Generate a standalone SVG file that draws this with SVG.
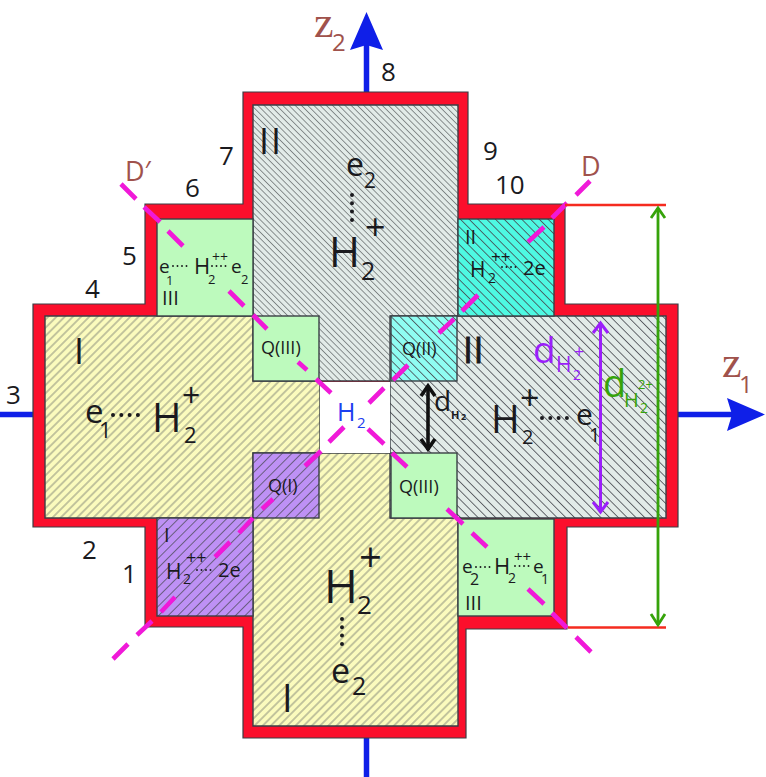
<svg xmlns="http://www.w3.org/2000/svg" width="766" height="777" viewBox="0 0 766 777">
<style>
text{font-family:"Open Sans","Noto Sans",sans-serif;fill:#1a1a1e}
.e{stroke:#3a3f45;stroke-width:1.4}
.d{stroke:#f019d8;stroke-width:4.6;fill:none}
.dots{stroke:#1a1a1e;stroke-width:4;stroke-dasharray:0 8.3;stroke-linecap:round;fill:none}
.sd{stroke:#1a1a1e;stroke-width:1.9;stroke-dasharray:0 4.5;stroke-linecap:round;fill:none}
.n{font-size:26px}
.b{fill:#a0524c}
.p{fill:#9b1ffa}
.g{fill:#36a30a}
.u{fill:#1d40f0}
.sb{fill:#a0524c}
</style>
<defs>
<pattern id="y53" width="5.8" height="5.8" patternUnits="userSpaceOnUse" patternTransform="rotate(-45)"><line x1="0" y1="2.9" x2="5.8" y2="2.9" stroke="#5a5f60" stroke-width="0.7"/></pattern>
<pattern id="p65" width="6.8" height="6.8" patternUnits="userSpaceOnUse" patternTransform="rotate(-45)"><line x1="0" y1="3.4" x2="6.8" y2="3.4" stroke="#45484f" stroke-width="0.7"/></pattern>
<pattern id="g4" width="4.4" height="4.4" patternUnits="userSpaceOnUse" patternTransform="rotate(45)"><line x1="0" y1="2.2" x2="4.4" y2="2.2" stroke="#5a5f60" stroke-width="0.65"/></pattern>
<pattern id="g6" width="6.2" height="6.2" patternUnits="userSpaceOnUse" patternTransform="rotate(45)"><line x1="0" y1="3.1" x2="6.2" y2="3.1" stroke="#45484f" stroke-width="0.8"/></pattern>
</defs>
<g id="axes">
<line x1="0" y1="414.500" x2="33" y2="414.500" stroke="#0f1fe8" stroke-width="5.500"/>
<line x1="678" y1="414.500" x2="735" y2="414.500" stroke="#0f1fe8" stroke-width="5.500"/>
<polygon points="727,398 765,414.500 727,431 732,414.500" fill="#0f1fe8"/>
<line x1="366.500" y1="92" x2="366.500" y2="45" stroke="#0f1fe8" stroke-width="5.500"/>
<polygon points="350,50 366.500,12 383,50 366.500,45" fill="#0f1fe8"/>
<line x1="366.500" y1="738" x2="366.500" y2="777" stroke="#0f1fe8" stroke-width="5.500"/>
</g>
<g id="outline"><path d="M243 92H468V204H565V304H678V527H567V629H466V738H243V627H145V527H33V304H145V204H243Z" fill="#fb0f2c" stroke="#3a3f45" stroke-width="1.2"/></g>
<g id="left-I"><path d="M45 316H320V518H45Z" fill="#fbfbbd"/><path d="M45 316H320V518H45Z" fill="url(#y53)" class="e"/>
<text x="74" y="364" font-size="36">I</text><text x="85" y="423" font-size="33">e</text><text x="99" y="438" font-size="22">1</text><path d="M113 415H138" class="dots" stroke-width="3.4"/><text x="152" y="432" font-size="40">H</text><text x="184" y="443" font-size="22">2</text><text x="182" y="407" font-size="32">+</text></g>
<g id="bottom-I"><path d="M253 453H458V726H253Z" fill="#fbfbbd"/><path d="M253 453H458V726H253Z" fill="url(#y53)" class="e"/>
<text x="324" y="603" font-size="46">H</text><text x="357" y="614" font-size="26">2</text><text x="359" y="572" font-size="40">+</text><path d="M342 619V646" class="dots"/><text x="331" y="683" font-size="34">e</text><text x="352" y="695" font-size="25">2</text><text x="282" y="712" font-size="38">I</text></g>
<g id="top-II"><path d="M253 105H458V381H253Z" fill="#e2ebe8"/><path d="M253 105H458V381H253Z" fill="url(#g4)" class="e"/>
<text x="259" y="154" font-size="36" letter-spacing="2">II</text><text x="346" y="176" font-size="32">e</text><text x="364" y="188" font-size="21">2</text><path d="M352 195V221" class="dots"/><text x="329" y="267" font-size="42">H</text><text x="361" y="280" font-size="25">2</text><text x="365" y="240" font-size="36">+</text></g>
<g id="right-II"><path d="M390 316H666V518H390Z" fill="#e2ebe8"/><path d="M390 316H666V518H390Z" fill="url(#g6)" class="e"/>
<text x="463" y="363" font-size="36" letter-spacing="0.5" stroke="#1a1a1e" stroke-width="0.8">II</text><text x="491" y="433" font-size="39">H</text><text x="522" y="444" font-size="20">2</text><text x="520" y="410" font-size="34">+</text><path d="M542 418H567" class="dots" stroke-width="3.4"/><text x="576" y="425" font-size="30">e</text><text x="589" y="442" font-size="20">1</text></g>
<g id="centre"><rect x="320" y="382" width="70" height="71" fill="#fff"/><text x="337" y="421" font-size="25" class="u">H</text><text x="357" y="428" font-size="15" class="u">2</text></g>
<g id="q3a"><rect x="253" y="316" width="66" height="65" fill="#bdfabd" class="e"/><text x="261" y="354" font-size="18">Q(III)</text></g>
<g id="q2"><rect x="391" y="316" width="66" height="65" fill="#8ffdf2"/><rect x="391" y="316" width="66" height="65" fill="url(#g6)" class="e"/><text x="402" y="355" font-size="18">Q(II)</text></g>
<g id="q1"><rect x="253" y="453" width="66" height="65" fill="#be91f5"/><rect x="253" y="453" width="66" height="65" fill="url(#p65)" class="e"/><text x="268" y="492" font-size="18">Q(I)</text></g>
<g id="q3b"><rect x="391" y="453" width="66" height="65" fill="#bdfabd" class="e"/><text x="399" y="493" font-size="18">Q(III)</text></g>
<g id="tl-III"><rect x="157" y="219" width="96" height="97" fill="#bdfabd" class="e"/>
<text x="159" y="273" font-size="19">e</text><text x="166" y="285" font-size="13">1</text><path d="M173 266H188" class="sd"/><text x="194" y="274" font-size="22">H</text><text x="208" y="284" font-size="13">2</text><text x="212" y="262" font-size="14">++</text><path d="M212 266H227" class="sd"/><text x="231" y="273" font-size="19">e</text><text x="241" y="284" font-size="13">2</text><text x="162" y="305" font-size="20">III</text></g>
<g id="tr-II"><rect x="458" y="219" width="96" height="97" fill="#4ef9e2"/><rect x="458" y="219" width="96" height="97" fill="url(#g6)" class="e"/>
<text x="465" y="244" font-size="20">II</text><text x="470" y="277" font-size="21">H</text><text x="488" y="283" font-size="14">2</text><text x="491" y="263" font-size="17">++</text><path d="M502 267H518" class="sd"/><text x="523" y="275" font-size="20">2e</text></g>
<g id="bl-I"><rect x="157" y="518" width="96" height="98" fill="#be91f5"/><rect x="157" y="518" width="96" height="98" fill="url(#p65)" class="e"/>
<text x="164" y="542" font-size="20">I</text><text x="166" y="579" font-size="21">H</text><text x="183" y="584" font-size="14">2</text><text x="186" y="564" font-size="18">++</text><path d="M197 570H213" class="sd"/><text x="218" y="577" font-size="20">2e</text></g>
<g id="br-III"><rect x="458" y="519" width="96" height="97" fill="#bdfabd" class="e"/>
<text x="462" y="573" font-size="19">e</text><text x="470" y="585" font-size="16">2</text><path d="M476 567H491" class="sd"/><text x="494" y="574" font-size="22">H</text><text x="508" y="583" font-size="14">2</text><text x="514" y="562" font-size="15">++</text><path d="M515 566H530" class="sd"/><text x="533" y="573" font-size="19">e</text><text x="541" y="584" font-size="14">1</text><text x="465" y="610" font-size="20">III</text></g>
<g id="connectors">
<path class="d" d="M121 184L136 199M144 207L160 222M168 231L183 246M229 291L244 306M253 315L267 329M298 362L307 370M316 379L331 393M368 429L384 444M392 453L407 467M447 509L463 524M472 533L487 547M528 589L544 604M552 613L567 628M576 637L591 652"/>
<path class="d" d="M590 181L576 195M567 203L552 218M544 227L528 242M478 295L462 311M454 319L439 333M408 365L393 380M384 388L369 403M344 427L329 442M321 451L305 466M273 499L262 509M253 518L239 533M230 542L215 557M175 597L161 612M152 621L137 635M128 644L113 659"/>
<line x1="565" y1="205" x2="666" y2="205" stroke="#f52b1f" stroke-width="2.400"/>
<line x1="568" y1="627.500" x2="666" y2="627.500" stroke="#f52b1f" stroke-width="2.400"/>
<g stroke="#36a30a" stroke-width="2.800" fill="none"><line x1="658" y1="208" x2="658" y2="625"/><path d="M651 218L658 208L665 218M651 614L658 625L665 614"/></g>
<g stroke="#9b1ffa" stroke-width="3" fill="none"><line x1="600.500" y1="323" x2="600.500" y2="512"/><path d="M593 333L600.500 323L608 333M593 502L600.500 512L608 502"/></g>
<g stroke="#111" stroke-width="3.600" fill="none"><line x1="428" y1="386" x2="428" y2="450"/><path d="M421 396L428 386L435 396M421 439L428 449L435 439"/></g>
</g>
<g id="labels">
<text x="314" y="37" font-size="44" class="b" style="font-family:'Liberation Serif',serif">z</text><text x="332" y="51" font-size="24" class="sb">2</text>
<text x="722" y="377" font-size="44" class="b" style="font-family:'Liberation Serif',serif">z</text><text x="739" y="393" font-size="24" class="sb">1</text>
<text x="125" y="181" font-size="27" class="b">D′</text><text x="581" y="176" font-size="27" class="b">D</text>
<text x="533" y="363" font-size="37" class="p">d</text><text x="556" y="372" font-size="21" class="p">H</text><text x="573" y="380" font-size="14" class="p">2</text><text x="574" y="358" font-size="18" class="p">+</text>
<text x="603" y="397" font-size="38" class="g">d</text><text x="624" y="407" font-size="20" class="g">H</text><text x="640" y="413" font-size="14" class="g">2</text><text x="638" y="389" font-size="13" class="g">2+</text>
<text x="434" y="411" font-size="28">d</text><text x="451" y="419" font-size="11" font-weight="bold">H</text><text x="461" y="420" font-size="9" font-weight="bold">2</text>
<text x="381" y="81" class="n">8</text><text x="219" y="165" class="n">7</text><text x="185" y="197" class="n">6</text><text x="122" y="265" class="n">5</text><text x="85" y="298" class="n">4</text><text x="6" y="404" class="n">3</text><text x="82" y="559" class="n">2</text><text x="122" y="583" class="n">1</text><text x="483" y="160" class="n">9</text><text x="495" y="194" class="n">10</text>
</g>
</svg>
